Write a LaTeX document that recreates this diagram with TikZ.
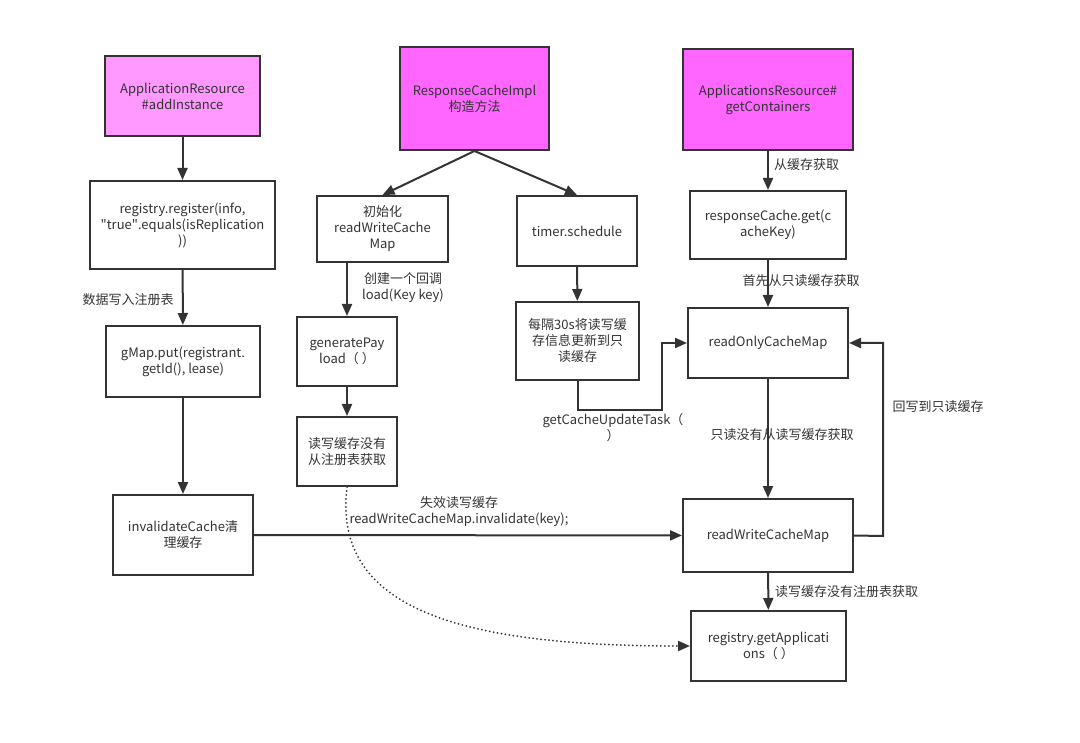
\documentclass[tikz,border=0pt]{standalone}
\usepackage{fontspec}
\setmainfont{Noto Sans CJK SC}
\usetikzlibrary{arrows.meta,positioning}
\definecolor{linegray}{HTML}{333333}
\definecolor{lightpink}{HTML}{FF99FF}
\definecolor{pinkfill}{HTML}{FF66FF}

\begin{document}
\begin{tikzpicture}[
    x=1pt, y=-1pt,
    font=\fontsize{13}{16}\selectfont,
    text=linegray,
    block/.style={draw=linegray, line width=2pt, rectangle, align=center, fill=white},
    arrow/.style={-{Triangle[length=12pt, width=10pt]}, line width=2pt, draw=linegray},
    dottedarrow/.style={-{Triangle[length=12pt, width=10pt]}, line width=2pt, draw=linegray, line cap=round, dash pattern=on 0pt off 4pt},
    note/.style={align=center, inner sep=1pt}
]
\useasboundingbox (0,0) rectangle (1080,743);

% Entry points
\node[block, fill=lightpink, minimum width=155pt, minimum height=80pt] (addinst) at (182.5,96) {ApplicationResource\\\#addInstance};
\node[block, fill=pinkfill, minimum width=149pt, minimum height=103pt] (cacheimpl) at (474.5,98.5) {ResponseCacheImpl\\构造方法};
\node[block, fill=pinkfill, minimum width=170pt, minimum height=101pt] (getcont) at (768,99.5) {ApplicationsResource\#\\getContainers};

% Register column
\node[block, minimum width=185pt, minimum height=88pt] (register) at (182.5,225) {registry.register(info,\\\textquotedbl true\textquotedbl.equals(isReplication\\))};
\node[block, minimum width=154pt, minimum height=71pt] (gmapput) at (183,361.5) {gMap.put(registrant.\\getId(), lease)};
\node[block, minimum width=140pt, minimum height=80pt] (invalidate) at (183,535) {invalidateCache清\\理缓存};

% Constructor column
\node[block, minimum width=131pt, minimum height=66pt] (initmap) at (382.5,229) {初始化\\readWriteCache\\Map};
\node[block, minimum width=100pt, minimum height=69pt] (genpayload) at (347,351.5) {generatePay\\load（ ）};
\node[block, minimum width=100pt, minimum height=69pt] (fromreg) at (347,451.5) {读写缓存没有\\从注册表获取};
\node[block, minimum width=120pt, minimum height=70pt] (timer) at (577,231) {timer.schedule};
\node[block, minimum width=123pt, minimum height=78pt] (everysec) at (577.5,341) {每隔30s将读写缓\\存信息更新到只\\读缓存};

% Read column
\node[block, minimum width=156pt, minimum height=68pt] (cacheget) at (768,225) {responseCache.get(c\\acheKey)};
\node[block, minimum width=160pt, minimum height=70pt] (readonly) at (768,343) {readOnlyCacheMap};
\node[block, minimum width=170pt, minimum height=73pt] (readwrite) at (768,535.5) {readWriteCacheMap};
\node[block, minimum width=155pt, minimum height=70pt] (getapps) at (768.5,646) {registry.getApplicati\\ons（ ）};

% Corners
\coordinate (updturn) at (662,410);
\coordinate (backturn) at (883,536);

% Arrows
\draw[arrow] (addinst) -- (register);
\draw[arrow] (register) -- (gmapput);
\draw[arrow] (gmapput) -- (invalidate);
\draw[arrow] (cacheimpl.south) -- (initmap.north);
\draw[arrow] (cacheimpl.south) -- (timer.north);
\draw[arrow] (initmap.south -| genpayload.north) -- (genpayload.north);
\draw[arrow] (genpayload) -- (fromreg);
\draw[arrow] (timer) -- (everysec);
\draw[arrow] (everysec.south) |- (updturn) |- (readonly.west);
\draw[arrow] (getcont) -- (cacheget);
\draw[arrow] (cacheget) -- (readonly);
\draw[arrow] (readonly) -- (readwrite);
\draw[arrow] (readwrite.east) -- (backturn) |- (readonly.east);
\draw[arrow] (readwrite) -- (getapps);
\draw[arrow] (invalidate) -- (readwrite);
\draw[dottedarrow] (fromreg.south) .. controls (333,605) and (450,646) .. (getapps.west);

% Annotations
\node[note] (writereg) at (128,300) {数据写入注册表};
\node[note] (loadcb) at (403,288) {创建一个回调\\load(Key key)};
\node[note] (updtask) at (613,428) {getCacheUpdateTask（\\）};
\node[note, anchor=west] (fromcache) at (773,165) {从缓存获取};
\node[note] (firstro) at (801,281) {首先从只读缓存获取};
\node[note] (rotorw) at (782,435) {只读没有从读写缓存获取};
\node[note] (writeback) at (938,407) {回写到只读缓存};
\node[note, anchor=west] (rwtoreg) at (774,592) {读写缓存没有注册表获取};
\node[note] (invnote) at (459,512) {失效读写缓存\\readWriteCacheMap.invalidate(key);};

\end{tikzpicture}
\end{document}
